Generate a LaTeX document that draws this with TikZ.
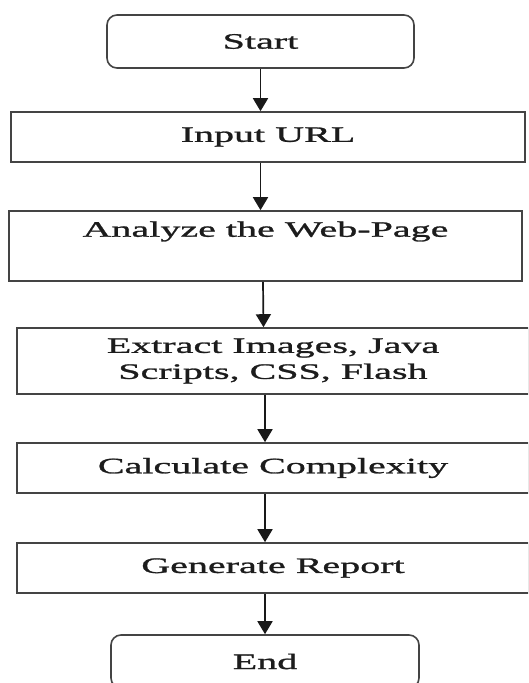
\documentclass[tikz,border=0pt]{standalone}
\usepackage{fontspec}
\setmainfont{Liberation Serif}[FakeStretch=1.82,FakeBold=1.2]
\usetikzlibrary{arrows.meta}
\definecolor{linegray}{HTML}{444444}
\definecolor{textgray}{HTML}{1c1c1c}
\begin{document}
\begin{tikzpicture}[x=1pt,y=-1pt,
  box/.style={draw=linegray, line width=1.6pt, inner sep=0pt, align=center,
    text=textgray, font=\fontsize{22}{26}\selectfont},
  term/.style={box, rounded corners=10pt, minimum width=307pt, minimum height=53pt},
  arr/.style={draw=black!90, line width=1.7pt, -{Triangle[length=13pt,width=15pt]}}]
\useasboundingbox (0,0) rectangle (528,683);
\clip (0,0) rectangle (528,683);
\node[term] (start) at (260.5,41.5) {Start};
\node[box, minimum width=514pt, minimum height=50pt] (input) at (268,137) {Input URL};
\node[box, minimum width=513pt, minimum height=70pt] (analyze) at (265.5,246) {Analyze the Web-Page\\ \strut};
\node[box, minimum width=512pt, minimum height=66pt] (extract) at (273,361) {Extract Images, Java\\Scripts, CSS, Flash};
\node[box, minimum width=512pt, minimum height=50pt] (calc) at (273,468) {Calculate Complexity};
\node[box, minimum width=512pt, minimum height=50pt] (gen) at (273,568) {Generate Report};
\node[term, minimum width=308pt] (end) at (265,661.5) {End};
\draw[arr] (start.south) -- (start.south |- input.north);
\draw[arr] (input.south -| analyze.north) ++(-5,0) -- ([xshift=-5pt]analyze.north);
\draw[arr] (analyze.south -| end.north) ++(-2,0) -- ([xshift=-2pt]analyze.south |- extract.north) ;
\draw[arr] (extract.south -| end.north) -- (end.north |- calc.north);
\draw[arr] (calc.south -| end.north) -- (end.north |- gen.north);
\draw[arr] (gen.south -| end.north) -- (end.north);
\end{tikzpicture}
\end{document}
